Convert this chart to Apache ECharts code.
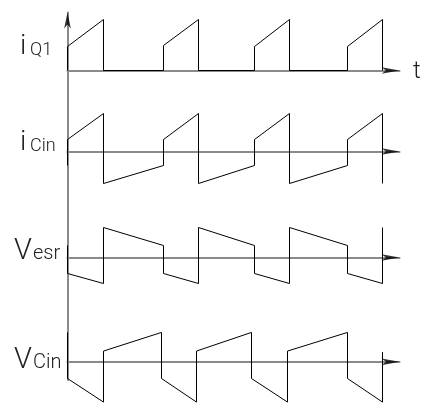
<!DOCTYPE html>
<html lang="en">
<head>
    <meta charset="UTF-8">
    <title>Cin waveforms</title>
    <script src="https://cdn.jsdelivr.net/npm/echarts/dist/echarts.min.js"></script>
    <style>
        html, body { margin: 0; padding: 0; background: #fff; }
        #chart { width: 422px; height: 406px; }
    </style>
</head>
<body>
<div id="chart"></div>
<script>
    // switching instants (time units), same for iQ1, iCin, Vesr
    var tSw = [0, 0, 36, 36, 96, 96, 131, 131, 187, 187, 222, 222, 280, 280, 315, 315];
    // Vcin edges come slightly earlier
    var tCin = [0, 0, 36, 36, 94, 94, 129, 129, 184, 184, 220, 220, 280, 280, 315, 315];

    var iQ1 = [0, 24, 51, 0, 0, 25, 51, 0, 0, 24, 51, 0, 0, 24, 51, 0];
    var iCin = [-14, 12, 38, -32, -14, 12, 38, -32, -14, 12, 38, -32, -14, 12, 38, -32];
    var vEsr = [12, -16, -26, 30, 12, -16, -26, 30, 12, -16, -26, 30, 12, -16, -26, 30];
    var vCin = [30, -17, -41, 11, 30, -17, -41, 11, 30, -17, -41, 11, 30, -17, -41, 10];

    var tMax = 332;

    function pairs(t, v) {
        var out = [];
        for (var i = 0; i < t.length; i++) out.push([t[i], v[i]]);
        return out;
    }

    var chart = echarts.init(document.getElementById('chart'), null, {renderer: 'canvas'});

    var gray = '#8a8a8a';
    var traces = [
        {t: tSw, v: iQ1, top: 15.5, height: 65, min: -10, max: 55},
        {t: tSw, v: iCin, top: 111.5, height: 80, min: -40, max: 40},
        {t: tSw, v: vEsr, top: 225.5, height: 62, min: -30, max: 32},
        {t: tCin, v: vCin, top: 327.5, height: 80, min: -45, max: 35}
    ];

    var grids = [{left: 67.5, top: 12.5, width: tMax, height: 367.5}];
    var xAxes = [{gridIndex: 0, type: 'value', min: 0, max: tMax, show: false}];
    var yAxes = [{
        gridIndex: 0, type: 'value', min: 0, max: 1,
        axisLine: {show: true, lineStyle: {color: gray, width: 2}},
        axisTick: {show: false}, axisLabel: {show: false}, splitLine: {show: false}
    }];
    var series = [{
        type: 'scatter', xAxisIndex: 0, yAxisIndex: 0, clip: false,
        data: [[0, 1]], symbol: 'arrow', symbolSize: [5, 16],
        itemStyle: {color: '#000'}, silent: true
    }];

    traces.forEach(function (tr, k) {
        var gi = k + 1;
        grids.push({left: 67.5, top: tr.top, width: tMax, height: tr.height});
        xAxes.push({
            gridIndex: gi, type: 'value', min: 0, max: tMax,
            axisLine: {show: true, onZero: true, lineStyle: {color: gray, width: 2}},
            axisTick: {show: false}, axisLabel: {show: false}, splitLine: {show: false}
        });
        yAxes.push({gridIndex: gi, type: 'value', min: tr.min, max: tr.max, show: false});
        series.push({
            type: 'line', xAxisIndex: gi, yAxisIndex: gi,
            data: pairs(tr.t, tr.v), showSymbol: false, z: 5,
            lineStyle: {color: '#000', width: 1}
        });
        series.push({
            type: 'scatter', xAxisIndex: gi, yAxisIndex: gi, clip: false,
            data: [[tMax, 0]], symbol: 'arrow', symbolRotate: -90, symbolSize: [5, 18],
            itemStyle: {color: '#000'}, silent: true
        });
    });

    var font = 'Roboto';
    var txt = '#222';
    function label(s, x, y, size) {
        return {
            type: 'text', x: x, y: y, silent: true,
            style: {text: s, fontFamily: font, fontWeight: 300, fontSize: size, fill: txt, verticalAlign: 'bottom'}
        };
    }

    chart.setOption({
        animation: false,
        grid: grids,
        xAxis: xAxes,
        yAxis: yAxes,
        series: series,
        graphic: [
            label('i', 20, 61, 28), label('Q1', 30, 59.5, 18),
            label('i', 20, 157, 28), label('Cin', 30, 155.5, 18),
            label('V', 14, 266, 29), label('esr', 33, 264, 20),
            label('V', 14, 375, 29), label('Cin', 33, 373, 20),
            label('t', 413, 84, 24)
        ]
    });
</script>
</body>
</html>
